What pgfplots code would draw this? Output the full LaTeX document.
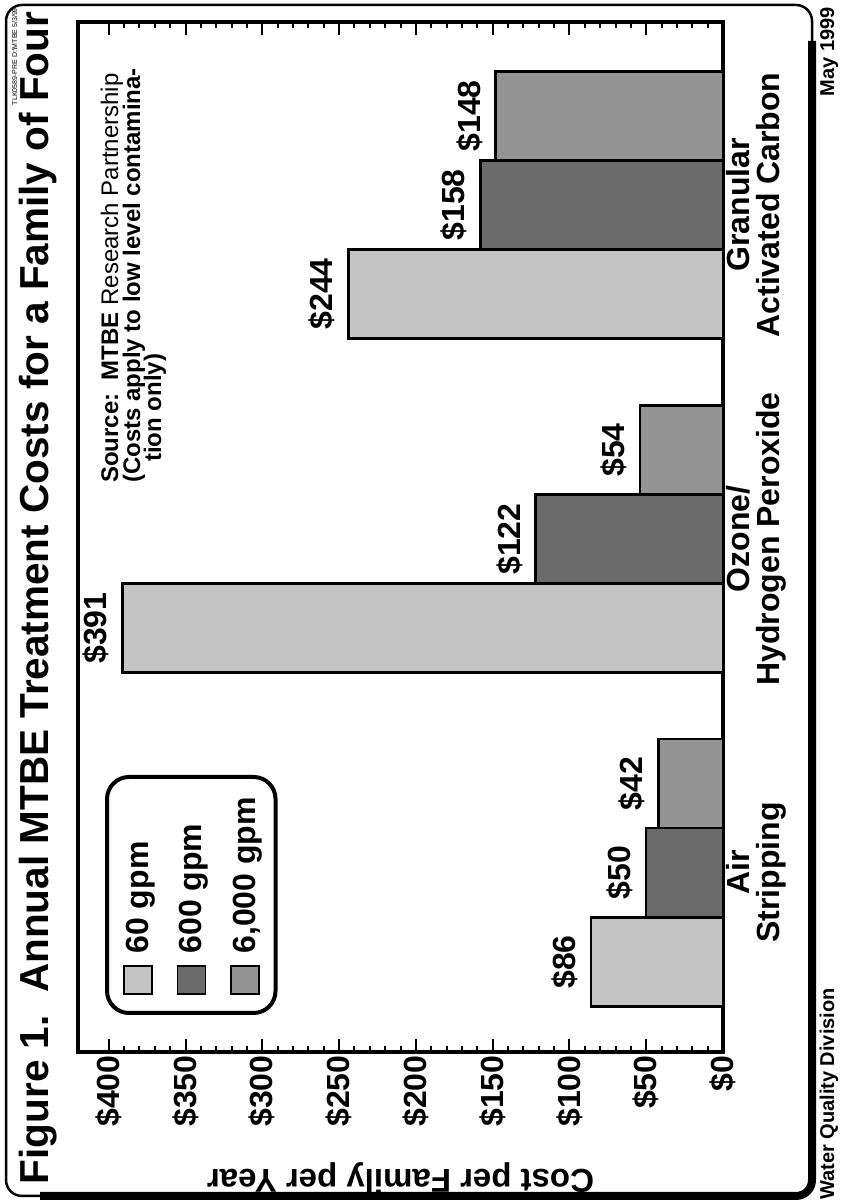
\documentclass[border=0pt]{standalone}
\usepackage{fontspec}
\setmainfont{Liberation Sans}
\usepackage{graphicx}
\usepackage{pgfplots}
\pgfplotsset{compat=1.18}
\definecolor{cA}{gray}{0.77}
\definecolor{cB}{gray}{0.42}
\definecolor{cC}{gray}{0.58}
\newcommand\F[1]{\fontsize{#1pt}{#1pt}\selectfont\bfseries}
\pgfplotsset{sqlegend/.style={legend image code/.code={\draw[##1, line width=1.5pt, sharp corners] (0pt,-14pt) rectangle (28pt,14pt);}}}
\newsavebox\chart
\begin{document}
\begin{lrbox}{\chart}%
\begin{tikzpicture}
\useasboundingbox (0,0) rectangle (1201pt,-843pt);
\draw[line width=2.5pt, rounded corners=16pt] (5pt,-6pt) rectangle (1196pt,-812pt);
\draw[line width=8pt, rounded corners=16pt] (5pt,-40pt) -- (5pt,-812pt) -- (1160pt,-812pt);
\node[anchor=base, inner sep=0pt] at (603pt,-48pt) {\F{40.5}Figure 1.\ \ Annual MTBE Treatment Costs for a Family of Four};
\node[anchor=base east, inner sep=0pt] at (1193pt,-17pt) {\fontsize{7pt}{7pt}\selectfont TLK0589-PRE D:\textbackslash MTBE 5/3/99};
\node[anchor=base west, inner sep=0pt] at (1pt,-834pt) {\F{20}Water Quality Division};
\node[anchor=base east, inner sep=0pt] at (1194pt,-834pt) {\F{20}May 1999};
\begin{axis}[
  at={(149pt,-723pt)}, anchor=south west,
  scale only axis, width=1030pt, height=645pt,
  xmin=149, xmax=1179, ymin=0, ymax=420,
  clip=false,
  axis line style={line width=3.5pt},
  ytick={0,50,...,400},
  yticklabels={\$0,\$50,\$100,\$150,\$200,\$250,\$300,\$350,\$400},
  minor y tick num=4,
  major tick length=13pt, minor tick length=6pt,
  ytick style={line width=2pt, black},
  minor tick style={line width=1.5pt, black},
  xtick={328.5,662,996},
  xticklabels={Air\\Stripping, Ozone/\\Hydrogen Peroxide, Granular\\Activated Carbon},
  xtick style={draw=none},
  xticklabel style={align=center, font=\fontsize{32pt}{30pt}\selectfont\bfseries},
  yticklabel style={font=\F{32}},
  ylabel={Cost per Family per Year},
  ylabel style={font=\F{33}, at={(axis description cs:-0.1223,0.5)}, anchor=center},
  legend style={at={(axis cs:186,402.4)}, anchor=north west, draw=black, line width=4pt,
    rounded corners=22pt, font=\F{32}, inner xsep=18pt, inner ysep=16pt, row sep=24pt,
    legend cell align=left, /tikz/every odd column/.style={column sep=10pt}},
  point meta=explicit symbolic,
  nodes near coords,
  nodes near coords style={font=\F{32}, anchor=south, inner sep=0pt, yshift=12pt},
]
\addplot[ybar, bar width=89, bar shift=0pt, fill=cA, draw=black, line width=2.5pt, sqlegend]
  coordinates {(239,86) [\$86] (573,391) [\$391] (907,244) [\$244]};
\addlegendentry{60 gpm}
\addplot[ybar, bar width=89, bar shift=0pt, fill=cB, draw=black, line width=2.5pt, sqlegend]
  coordinates {(328.5,50) [\$50] (662,122) [\$122] (996,158) [\$158]};
\addlegendentry{600 gpm}
\addplot[ybar, bar width=89, bar shift=0pt, fill=cC, draw=black, line width=2.5pt, sqlegend]
  coordinates {(417.5,42) [\$42] (751,54) [\$54] (1085,148) [\$148]};
\addlegendentry{6,000 gpm}
\end{axis}
\node[anchor=base west, inner sep=0pt] at (718pt,-118pt) {\fontsize{24pt}{24pt}\selectfont\textbf{Source:\ \ MTBE} Research Partnership};
\node[anchor=base west, inner sep=0pt] at (718pt,-140pt) {\F{24}(Costs apply to low level contamina-};
\node[anchor=base west, inner sep=0pt] at (739pt,-161pt) {\F{24}tion only)};
\end{tikzpicture}%
\end{lrbox}%
\rotatebox{90}{\usebox\chart}
\end{document}
